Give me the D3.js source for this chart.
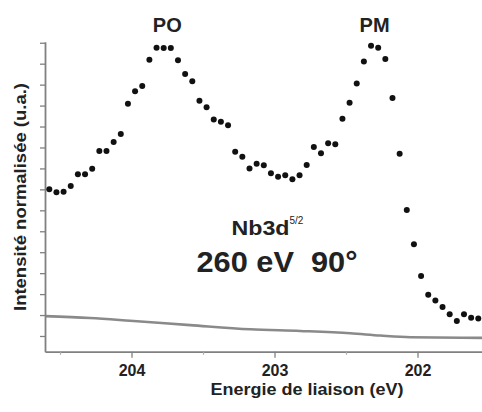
<!DOCTYPE html>
<html><head><meta charset="utf-8">
<script src="https://cdn.jsdelivr.net/npm/d3@7"></script>
<style>body{margin:0;background:#fff}svg{display:block}text{font-family:"Liberation Sans",Arial,sans-serif}</style>
</head><body>
<svg id="c" width="482" height="412"></svg>
<script>
const energies = [204.575,204.525,204.475,204.425,204.375,204.325,204.275,204.225,204.175,204.125,204.075,204.025,203.975,203.925,203.875,203.825,203.775,203.725,203.675,203.625,203.575,203.525,203.475,203.425,203.375,203.325,203.275,203.225,203.175,203.125,203.075,203.025,202.975,202.925,202.875,202.825,202.775,202.725,202.675,202.625,202.575,202.525,202.475,202.425,202.375,202.325,202.275,202.225,202.175,202.125,202.075,202.025,201.975,201.925,201.875,201.825,201.775,201.725,201.675,201.625,201.575];
const intensity = [8.00,7.86,7.89,8.16,8.72,8.72,8.99,9.83,9.83,10.26,10.64,12.09,12.69,12.93,14.19,14.76,14.75,14.75,14.17,13.51,13.16,12.23,11.92,11.34,11.23,11.06,9.80,9.56,9.00,9.22,9.15,8.77,8.60,8.68,8.48,8.68,9.16,10.02,9.72,10.20,10.16,11.37,12.14,13.06,14.11,14.86,14.76,14.22,12.36,9.70,7.01,5.38,3.86,2.97,2.70,2.38,2.04,1.72,2.04,1.87,1.84];
const bgEnergies = [204.605,204.29,204.01,203.59,203.17,202.82,202.47,202.26,202.05,201.549];
const bgIntensity = [1.95,1.86,1.73,1.52,1.32,1.24,1.13,1.02,0.94,0.91];
const xMajorTicks = [204,203,202];
const xMinorTicks = [204.5,203.5,202.5];
const yTicks = [1,2,3,4,5,6,7,8,9,10,11,12,13,14,15];
const peakLabels = [{t:"PO",e:203.75},{t:"PM",e:202.3}];

const svg = d3.select("#c");
const x = d3.scaleLinear().domain([204.605,201.549]).range([45,482]);
const y = d3.scaleLinear().domain([0.25,15.05]).range([351.7,41.7]);
const axisColor = "#808080";

// background line
svg.append("path")
  .datum(bgEnergies.map((e,i)=>[e,bgIntensity[i]]))
  .attr("fill","none").attr("stroke","#8a8a8a").attr("stroke-width",2.6)
  .attr("d", d3.line().x(d=>x(d[0])).y(d=>y(d[1])).curve(d3.curveMonotoneX));

// axes
const gx = svg.append("g").attr("transform","translate(0,351.7)")
  .call(d3.axisBottom(x).tickValues(xMajorTicks).tickSize(6).tickSizeOuter(0).tickFormat(d3.format("d")));
gx.select(".domain").attr("stroke",axisColor).attr("stroke-width",1.8);
gx.selectAll(".tick line").attr("stroke",axisColor).attr("stroke-width",1.3);
gx.selectAll(".tick text").attr("font-size",16).attr("font-weight","bold").attr("fill","#222").attr("dy","0.95em");

const gxm = svg.append("g").attr("transform","translate(0,351.7)")
  .call(d3.axisBottom(x).tickValues(xMinorTicks).tickSize(3).tickSizeOuter(0).tickFormat(""));
gxm.select(".domain").remove();
gxm.selectAll(".tick line").attr("stroke","#aaa").attr("stroke-width",1.2);

const gy = svg.append("g").attr("transform","translate(45,0)")
  .call(d3.axisLeft(y).tickValues(yTicks).tickSize(5).tickSizeOuter(0).tickFormat(""));
gy.select(".domain").attr("stroke",axisColor).attr("stroke-width",1.8);
gy.selectAll(".tick line").attr("stroke",axisColor).attr("stroke-width",1.3);

// points
svg.append("g").selectAll("circle").data(energies).join("circle")
  .attr("cx",(d)=>x(d)).attr("cy",(d,i)=>y(intensity[i])).attr("r",3).attr("fill","#111");

// peak labels
svg.append("g").selectAll("text").data(peakLabels).join("text")
  .attr("x",d=>x(d.e)).attr("y",31.5).attr("text-anchor","middle")
  .attr("font-size",20).attr("font-weight","bold").attr("fill","#222").text(d=>d.t);

// annotation
const nb = svg.append("text").attr("x",231.5).attr("y",234.5).attr("font-size",21).attr("font-weight","bold").attr("fill","#222");
nb.append("tspan").attr("textLength",58).attr("lengthAdjust","spacingAndGlyphs").text("Nb3d");
nb.append("tspan").attr("font-size",10).attr("font-weight","normal").attr("dy",-11).text("5/2");
svg.append("text").attr("x",196.5).attr("y",271.5).attr("font-size",29).attr("font-weight","bold").attr("fill","#222")
  .attr("textLength",161).attr("lengthAdjust","spacingAndGlyphs").attr("xml:space","preserve").text("260 eV  90°");

// axis titles
svg.append("text").attr("x",307).attr("y",395).attr("text-anchor","middle")
  .attr("font-size",17).attr("font-weight","bold").attr("fill","#222")
  .attr("textLength",193).attr("lengthAdjust","spacingAndGlyphs").text("Energie de liaison (eV)");
svg.append("text").attr("transform","translate(26,197) rotate(-90)").attr("text-anchor","middle")
  .attr("font-size",16.5).attr("font-weight","bold").attr("fill","#222")
  .attr("textLength",228).attr("lengthAdjust","spacingAndGlyphs").text("Intensité normalisée (u.a.)");
</script>
</body></html>
